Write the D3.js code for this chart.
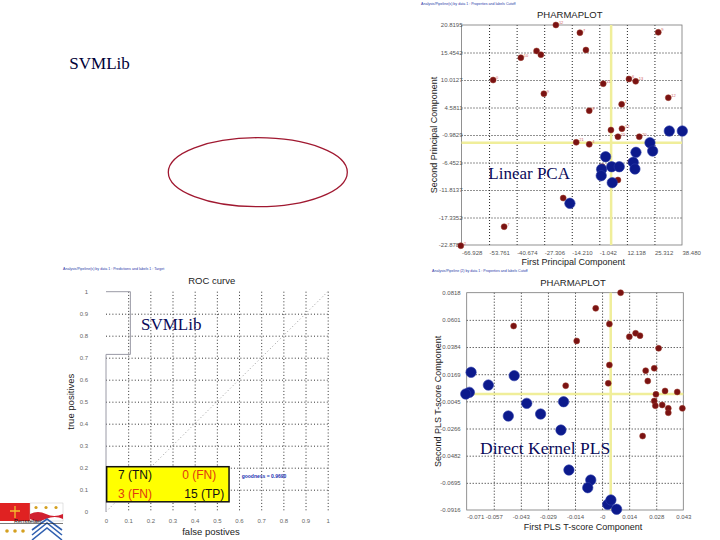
<!DOCTYPE html>
<html>
<head>
<meta charset="utf-8">
<script src="https://cdn.jsdelivr.net/npm/d3@7"></script>
<style>
  body { margin: 0; background: #ffffff; }
  svg { display: block; }
</style>
</head>
<body>
<script>
//////// Data

// Linear PCA (top right)
var pcaXTicks = ["-66.928", "-53.761", "-40.674", "-27.306", "-14.210", "-1.042", "12.138", "25.312", "38.480"];
var pcaYTicks = ["20.8195", "15.4542", "10.0127", "4.5811", "-0.9829", "-6.4521", "-11.8137", "-17.3352", "-22.8782"];
var pcaRedX = [-21.81, -10.33, 27.14, -31.04, -28.99, -38.55, -7.45, -51.81, 0.82, 13.12, 16.33, -27.55, 31.93, 9.63, -5.87, 4.51, 9.77, 7.86, 18.05, -12.09, -5.87, 0.35, 14.08, 7.86, -18.31, -46.55, -67.26];
var pcaRedY = [20.82, 19.29, 19.37, 15.66, 14.92, 14.33, 15.85, 9.89, 9.16, 10.09, 9.63, 7.17, 6.38, 5.07, 3.80, -0.04, 0.22, -1.37, -1.37, -2.48, -2.88, -7.33, -6.33, -9.97, -13.55, -19.25, -23.02];
var pcaRedLabels = ["12", "7", "9", "", "", "10", "", "0", "11", "6", "13", "9", "12", "1", "8", "", "12", "15", "20", "21", "4", "", "", "", "", "7", "2"];
var pcaBlueX = [32.41, 38.63, 23.17, 24.46, 16.47, 1.97, 4.85, 8.48, 0.06, -0.13, 15.18, 15.99, 5.13, -15.11];
var pcaBlueY = [-0.24, -0.24, -2.56, -4.21, -4.47, -5.34, -7.33, -7.33, -7.84, -9.11, -6.45, -7.78, -10.50, -14.60];
var pcaCenter = [4.6, -2.56];

// Direct Kernel PLS (bottom right)
var plsXTicks = ["-0.071", "-0.057", "-0.043", "-0.029", "-0.014", "-0", "0.014", "0.028", "0.043"];
var plsYTicks = ["0.0818", "0.0601", "0.0384", "0.0169", "-0.0045", "-0.0266", "-0.0482", "-0.0695", "-0.0916"];
var plsRedX = [0.0100, -0.0031, -0.0463, 0.0041, 0.0146, 0.0179, 0.0202, -0.0131, 0.0300, 0.0041, 0.0232, 0.0277, 0.0243, 0.0035, -0.0189, 0.0334, 0.0398, 0.0286, 0.0277, 0.0283, 0.0319, 0.0351, 0.0351, 0.0425, 0.0216];
var plsRedY = [0.0818, 0.0693, 0.0552, 0.0568, 0.0467, 0.0494, 0.0475, 0.0433, 0.0374, 0.0241, 0.0196, 0.0215, 0.0113, 0.0095, 0.0076, 0.0034, 0.0026, 0.0007, -0.0046, -0.0084, -0.0078, -0.0105, -0.0140, -0.0105, -0.0326];
var plsBlueX = [-0.0687, -0.0696, -0.0715, -0.0596, -0.0460, -0.0394, -0.0491, -0.0321, -0.0200, -0.0214, -0.0172, -0.0057, -0.0073, 0.0032, 0.0049, 0.0079];
var plsBlueY = [0.0183, 0.0023, 0.0010, 0.0081, 0.0156, -0.0065, -0.0166, -0.0150, -0.0052, -0.0278, -0.0597, -0.0677, -0.0738, -0.0871, -0.0836, -0.0910];
var plsCenter = [0.0048, 0.0010];

// ROC curve (bottom left)
var rocTicks = ["0", "0.1", "0.2", "0.3", "0.4", "0.5", "0.6", "0.7", "0.8", "0.9", "1"];
var rocFP = [0, 0, 0.11, 0.11, 0];
var rocTP = [0, 0.715, 0.715, 1, 1];
var confusionText = ["7 (TN)", "0 (FN)", "3 (FN)", "15 (TP)"];
var goodness = "goodness  = 0.9690";

var sans = "'Liberation Sans', Arial, sans-serif";
var serif = "'Liberation Serif', 'Times New Roman', serif";

var svg = d3.select("body").append("svg")
    .attr("width", 720)
    .attr("height", 540);

//small blue caption above each screenshot
function caption(x, y, txt) {
  svg.append("text")
    .attr("x", x).attr("y", y)
    .style("font-family", sans)
    .style("font-size", "3.6px")
    .style("fill", "#2838a8")
    .text(txt);
}

//plain text helper
function label(x, y, txt, size, opts) {
  opts = opts || {};
  var t = svg.append("text")
    .attr("x", x).attr("y", y)
    .attr("text-anchor", opts.anchor || "middle")
    .style("font-family", opts.family || sans)
    .style("font-size", size + "px")
    .style("fill", opts.fill || "#222")
    .text(txt);
  if (opts.rotate) t.attr("transform", "rotate(-90," + x + "," + y + ")");
  return t;
}

////////////////////////////////////////////////////
//////// PHARMAPLOT scatter panels
////////////////////////////////////////////////////
function drawScatter(p) {
  var g = svg.append("g")
      .attr("transform", "translate(" + p.left + "," + p.top + ")");
  var nx = p.xTicks.length, ny = p.yTicks.length;

  var x = d3.scaleLinear().domain([+p.xTicks[0], +p.xTicks[nx - 1]]).range([0, p.width]),
      y = d3.scaleLinear().domain([+p.yTicks[ny - 1], +p.yTicks[0]]).range([p.height, 0]);

  //evenly spaced tick positions, labels come from the arrays
  var xVals = d3.range(nx).map(function(i) { return x.invert(i * p.width / (nx - 1)); });
  var yVals = d3.range(ny).map(function(i) { return y.invert(i * p.height / (ny - 1)); });

  //dotted grid
  g.append("g")
      .call(d3.axisBottom(x).tickValues(xVals.slice(1, -1)).tickSize(p.height).tickFormat(""))
      .call(function(s) { s.select(".domain").remove(); })
    .selectAll("line")
      .attr("stroke", "#222")
      .attr("stroke-dasharray", "1,2");
  g.append("g")
      .call(d3.axisRight(y).tickValues(yVals.slice(1, -1)).tickSize(p.width).tickFormat(""))
      .call(function(s) { s.select(".domain").remove(); })
    .selectAll("line")
      .attr("stroke", "#222")
      .attr("stroke-dasharray", "1,2");

  //frame
  g.append("rect")
      .attr("width", p.width)
      .attr("height", p.height)
      .attr("fill", "none")
      .attr("stroke", "#777")
      .attr("stroke-width", 0.8);

  //yellow centre cross
  g.append("line")
      .attr("x1", x(p.center[0])).attr("x2", x(p.center[0]))
      .attr("y1", 0).attr("y2", p.height)
      .attr("stroke", "#f0ee9a").attr("stroke-width", 2.5);
  g.append("line")
      .attr("x1", 0).attr("x2", p.width)
      .attr("y1", y(p.center[1])).attr("y2", y(p.center[1]))
      .attr("stroke", "#f0ee9a").attr("stroke-width", 2.5);

  //tick labels
  var xAx = g.append("g")
      .attr("transform", "translate(0," + p.height + ")")
      .call(d3.axisBottom(x).tickValues(xVals).tickSize(0).tickPadding(p.xPad)
        .tickFormat(function(d, i) { return p.xTicks[i]; }));
  xAx.select(".domain").remove();
  xAx.selectAll("text")
      .style("font-family", sans)
      .style("font-size", "6px")
      .style("fill", "#555")
      .attr("text-anchor", function(d, i) { return (p.xStart || i == 0) ? "start" : "middle"; });

  var yAx = g.append("g")
      .call(d3.axisLeft(y).tickValues(yVals).tickSize(0).tickPadding(p.yPad)
        .tickFormat(function(d, i) { return p.yTicks[i]; }));
  yAx.select(".domain").remove();
  yAx.selectAll("text")
      .style("font-family", sans)
      .style("font-size", "6px")
      .style("fill", "#555");

  //red (inactive) points with their little id labels
  var red = d3.zip(p.redX, p.redY);
  g.selectAll(".red")
    .data(red)
    .enter().append("circle")
      .attr("class", "red")
      .attr("cx", function(d) { return x(d[0]); })
      .attr("cy", function(d) { return y(d[1]); })
      .attr("r", 3)
      .attr("fill", "#7a1212")
      .attr("stroke", "#9a3a2a")
      .attr("stroke-width", 0.5);
  if (p.redLabels) {
    g.selectAll(".redlab")
      .data(red)
      .enter().append("text")
        .attr("x", function(d) { return x(d[0]) + 3; })
        .attr("y", function(d) { return y(d[1]) - 1; })
        .style("font-family", sans)
        .style("font-size", "4px")
        .style("fill", "#d06060")
        .text(function(d, i) { return p.redLabels[i]; });
  }

  //blue (active) points
  g.selectAll(".blue")
    .data(d3.zip(p.blueX, p.blueY))
    .enter().append("circle")
      .attr("class", "blue")
      .attr("cx", function(d) { return x(d[0]); })
      .attr("cy", function(d) { return y(d[1]); })
      .attr("r", 5.2)
      .attr("fill", "#0c1a8c")
      .attr("stroke", "#2a3aa8")
      .attr("stroke-width", 0.6);

  //titles
  label(p.left + p.width / 2 - 2, p.top - 7, "PHARMAPLOT", 9.5);
  label(p.left + p.width / 2 + p.xLabDx, p.top + p.height + 20, p.xLabel, 9);
  label(p.left - p.yLabDx, p.top + p.height / 2, p.yLabel, 9, {rotate: true});
}

drawScatter({
  left: 461.5, top: 25, width: 220.5, height: 220,
  xTicks: pcaXTicks, yTicks: pcaYTicks,
  redX: pcaRedX, redY: pcaRedY, redLabels: pcaRedLabels,
  blueX: pcaBlueX, blueY: pcaBlueY, center: pcaCenter,
  xPad: 5.5, yPad: -1, xStart: true,
  xLabel: "First Principal Component", xLabDx: 1.5,
  yLabel: "Second Principal Component", yLabDx: 25
});

drawScatter({
  left: 466.7, top: 292.7, width: 216.6, height: 217.3,
  xTicks: plsXTicks, yTicks: plsYTicks,
  redX: plsRedX, redY: plsRedY,
  blueX: plsBlueX, blueY: plsBlueY, center: plsCenter,
  xPad: 4.5, yPad: 6, xStart: false,
  xLabel: "First PLS T-score Component", xLabDx: 8,
  yLabel: "Second PLS T-score Component", yLabDx: 26
});

////////////////////////////////////////////////////
//////// ROC curve panel
////////////////////////////////////////////////////
var roc = {left: 106, top: 291.7, width: 221.7, height: 220};
var rg = svg.append("g")
    .attr("transform", "translate(" + roc.left + "," + roc.top + ")");
var rx = d3.scaleLinear().domain([0, 1]).range([0, roc.width]),
    ry = d3.scaleLinear().domain([0, 1]).range([roc.height, 0]);
var rocVals = rocTicks.map(Number);

//dotted grid
rg.append("g")
    .call(d3.axisBottom(rx).tickValues(rocVals.slice(1)).tickSize(roc.height).tickFormat(""))
    .call(function(s) { s.select(".domain").remove(); })
  .selectAll("line")
    .attr("stroke", "#333")
    .attr("stroke-dasharray", "1,2.2");
rg.append("g")
    .call(d3.axisRight(ry).tickValues(rocVals.slice(1, -1)).tickSize(roc.width).tickFormat(""))
    .call(function(s) { s.select(".domain").remove(); })
  .selectAll("line")
    .attr("stroke", "#333")
    .attr("stroke-dasharray", "1,2.2");

//chance diagonal
rg.append("line")
    .attr("x1", rx(0)).attr("y1", ry(0))
    .attr("x2", rx(1)).attr("y2", ry(1))
    .attr("stroke", "#999")
    .attr("stroke-dasharray", "1,2.5");

//the curve itself
rg.append("path")
    .datum(d3.zip(rocFP, rocTP))
    .attr("fill", "none")
    .attr("stroke", "#9a9aa6")
    .attr("stroke-width", 1)
    .attr("d", d3.line().x(function(d) { return rx(d[0]); }).y(function(d) { return ry(d[1]); }));

//tick labels
var rxAx = rg.append("g")
    .attr("transform", "translate(0," + roc.height + ")")
    .call(d3.axisBottom(rx).tickValues(rocVals).tickSize(0).tickPadding(7)
      .tickFormat(function(d, i) { return rocTicks[i]; }));
rxAx.select(".domain").remove();
var ryAx = rg.append("g")
    .call(d3.axisLeft(ry).tickValues(rocVals).tickSize(0).tickPadding(18)
      .tickFormat(function(d, i) { return rocTicks[i]; }));
ryAx.select(".domain").remove();
rg.selectAll(".tick text")
    .style("font-family", sans)
    .style("font-size", "6px")
    .style("fill", "#666");

//confusion matrix box
rg.append("rect")
    .attr("x", rx(0.003)).attr("y", ry(0.2045))
    .attr("width", rx(0.555) - rx(0.003))
    .attr("height", ry(0.045) - ry(0.2045))
    .attr("fill", "#ffff00")
    .attr("stroke", "#111")
    .attr("stroke-width", 1.5);
var cellPos = [[0.054, 0.147], [0.344, 0.147], [0.054, 0.061], [0.353, 0.061]];
var cellColor = ["#111", "#e03a10", "#e03a10", "#111"];
rg.selectAll(".cell")
  .data(confusionText)
  .enter().append("text")
    .attr("x", function(d, i) { return rx(cellPos[i][0]); })
    .attr("y", function(d, i) { return ry(cellPos[i][1]); })
    .style("font-family", sans)
    .style("font-size", "12px")
    .style("fill", function(d, i) { return cellColor[i]; })
    .text(function(d) { return d; });
rg.append("text")
    .attr("x", rx(0.612)).attr("y", ry(0.155))
    .style("font-family", sans)
    .style("font-size", "5px")
    .style("font-weight", "bold")
    .style("fill", "#2030b0")
    .text(goodness);

label(211.7, 283.5, "ROC curve", 9.5);
label(211, 535, "false postives", 9.5);
label(74.5, 401.7, "true positives", 9.5, {rotate: true});

////////////////////////////////////////////////////
//////// Slide annotations
////////////////////////////////////////////////////
caption(421, 4.5, "Analysis/Pipeline(s) by data 1 : Properties and labels Cutoff");
caption(432, 272, "Analysis/Pipeline (2) by data 1 : Properties and labels Cutoff");
caption(63, 269.5, "Analysis/Pipeline(s) by data 1 : Predictions and labels 1 : Target");

label(69.3, 69.3, "SVMLib", 17, {anchor: "start", family: serif, fill: "#000038"});
label(141, 330, "SVMLib", 17, {anchor: "start", family: serif, fill: "#0a0a5a"});
label(488.3, 179, "Linear PCA", 17, {anchor: "start", family: serif, fill: "#0a0a5a"});
label(480, 454, "Direct Kernel PLS", 17.5, {anchor: "start", family: serif, fill: "#0a0a5a"});

svg.append("ellipse")
    .attr("cx", 257.8).attr("cy", 172.2)
    .attr("rx", 89.5).attr("ry", 34.5)
    .attr("fill", "none")
    .attr("stroke", "#a01830")
    .attr("stroke-width", 1.3);

//Rensselaer shield in the corner
var logo = svg.append("g");
logo.append("rect").attr("x", 0).attr("y", 503).attr("width", 30).attr("height", 18).attr("fill", "#e02222");
logo.append("path").attr("d", "M15,506V518M10,511H20").attr("stroke", "#f2c030").attr("stroke-width", 1.3);
logo.append("rect").attr("x", 30).attr("y", 503).attr("width", 33).attr("height", 18).attr("fill", "#fff").attr("stroke", "#bbb").attr("stroke-width", 0.4);
logo.append("path").attr("d", "M30,514Q38,510 46,514T63,514V519Q55,515 46,519T30,519Z").attr("fill", "#d02030");
[36, 46, 56].forEach(function(cx) {
  logo.append("circle").attr("cx", cx).attr("cy", 507.5).attr("r", 1.6).attr("fill", "#d4a020");
});
[7, 15, 23].forEach(function(cx) {
  logo.append("circle").attr("cx", cx).attr("cy", 531).attr("r", 1.8).attr("fill", "#d4a020");
});
logo.append("path").attr("d", "M32,540L47,528L62,540M32,535L47,523L62,535M32,530L47,519L62,530")
    .attr("fill", "none").attr("stroke", "#3060b0").attr("stroke-width", 1.6);
logo.append("line").attr("x1", 0).attr("x2", 63).attr("y1", 523.5).attr("y2", 523.5).attr("stroke", "#222").attr("stroke-width", 0.6);
label(28, 523, "Rensselaer", 5.5, {fill: "#111"});
</script>
</body>
</html>
